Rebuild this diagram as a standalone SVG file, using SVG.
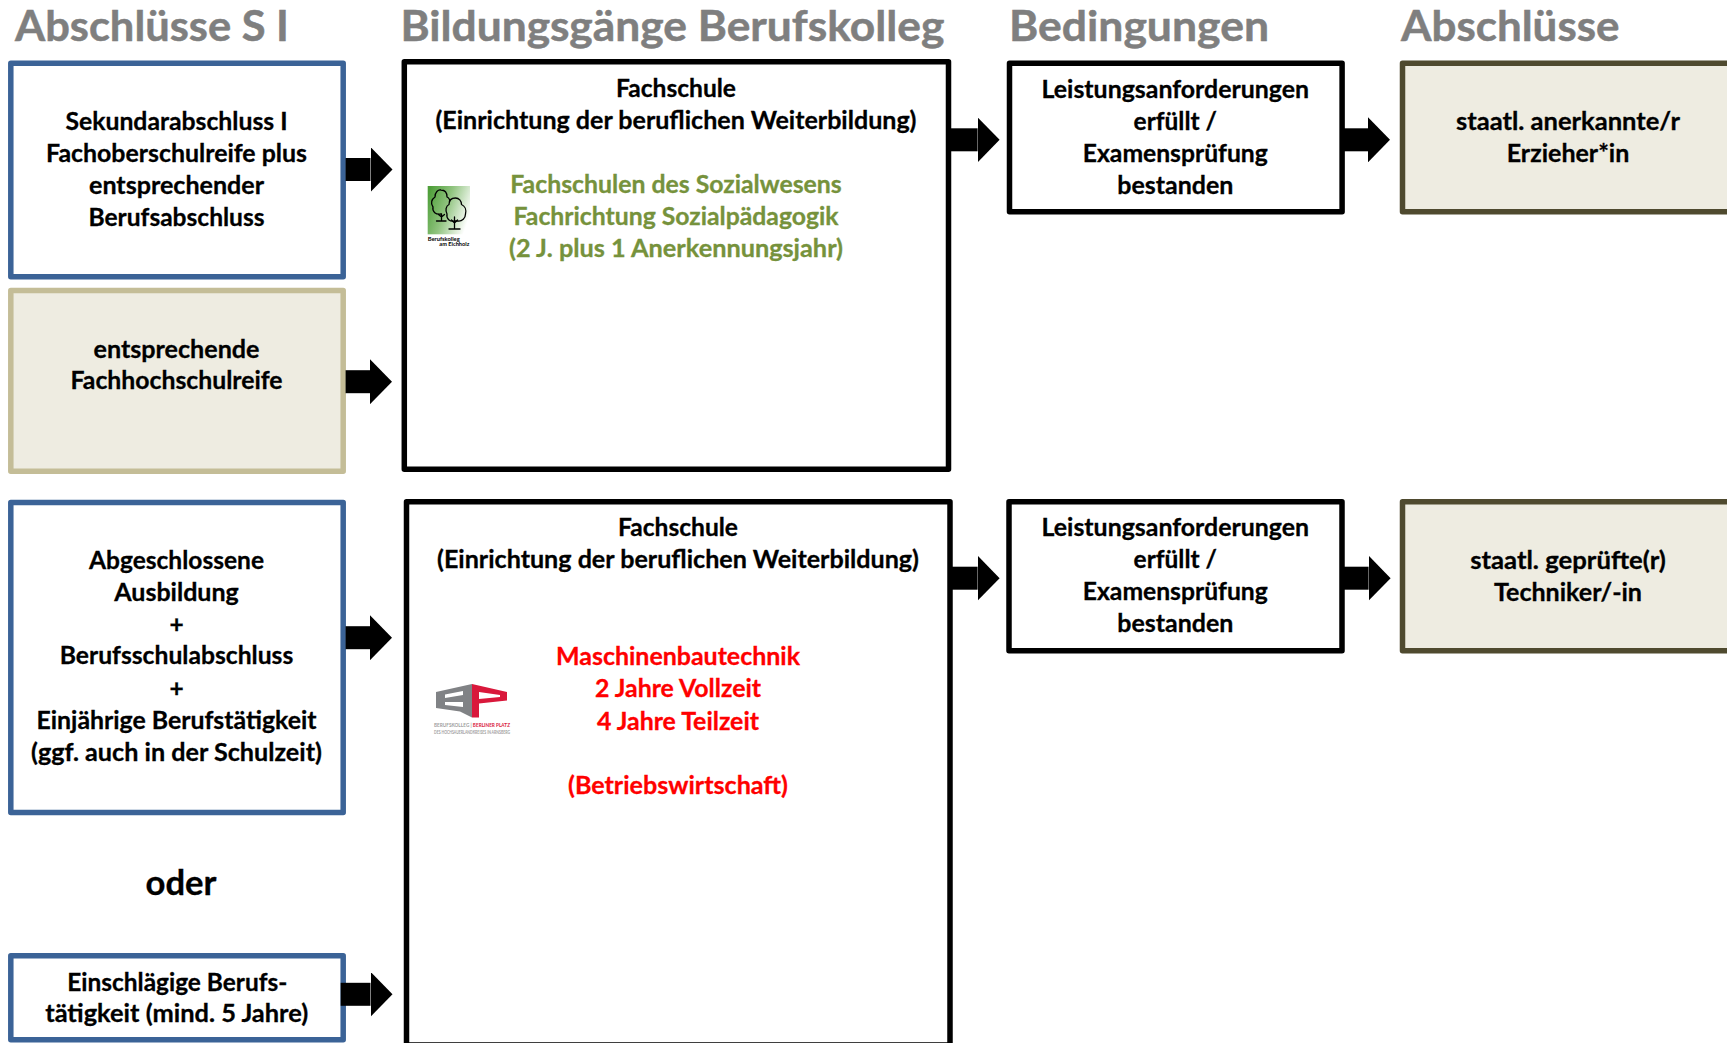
<svg xmlns="http://www.w3.org/2000/svg" width="1727" height="1043" viewBox="0 0 1727 1043">
<style>
text{font-family:"Lato","Carlito","Liberation Sans",sans-serif;font-weight:700;text-anchor:middle;fill:#000;font-size:24.5px;stroke:#000;stroke-width:.3px;transform:translateY(.8px)}
.h{font-size:42px;fill:#7f7f7f;stroke:#7f7f7f;stroke-width:.5px;text-anchor:start;transform:none}
.g{fill:#76923c;stroke:#76923c}
.r{fill:#f00;stroke:#f00}
.box{stroke-width:5.5;stroke-linejoin:round;fill:#fff}
.blue{stroke:#3b6397}
.tan{stroke:#c4bd97;fill:#eeece1}
.blk{stroke:#000}
.end{stroke:#4f4a2f;fill:#eeece1}
.arr{stroke:#000;stroke-width:23;fill:none;marker-end:url(#head)}
.tree{fill:none;stroke:#000;stroke-width:1.3;stroke-linejoin:round;stroke-linecap:round}
.tiny{font-size:5px;fill:#a0a0a0;stroke:none;transform:none}
.cap{font-size:6px;text-anchor:start;stroke:none;transform:none}
</style>
<defs>
<marker id="head" markerUnits="userSpaceOnUse" viewBox="0 0 22 45" refX="0" refY="22.5" markerWidth="22" markerHeight="45" orient="auto"><path d="M0 0L22 22.5L0 45Z" fill="#000"/></marker>
<linearGradient id="leaf" x1="0" y1="0.2" x2="1" y2="0.6"><stop offset="0" stop-color="#4f9f3a"/><stop offset="0.45" stop-color="#8fc37e"/><stop offset="1" stop-color="#fff"/></linearGradient>
</defs>
<rect width="1727" height="1043" fill="#fff"/>

<g id="headings">
<text class="h" x="15" y="41.4" textLength="274" lengthAdjust="spacingAndGlyphs">Abschlüsse S I</text>
<text class="h" x="400.4" y="41.4" textLength="544" lengthAdjust="spacingAndGlyphs">Bildungsgänge Berufskolleg</text>
<text class="h" x="1009" y="41.4" textLength="260" lengthAdjust="spacingAndGlyphs">Bedingungen</text>
<text class="h" x="1401" y="41.4" textLength="218.5" lengthAdjust="spacingAndGlyphs">Abschlüsse</text>
</g>

<g id="n-sek">
<rect class="box blue" x="10.8" y="63.2" width="332.4" height="213.6"/>
<text x="176.5" y="129.3" textLength="222" lengthAdjust="spacingAndGlyphs">Sekundarabschluss I</text>
<text x="176.5" y="161.3" textLength="261" lengthAdjust="spacingAndGlyphs">Fachoberschulreife plus</text>
<text x="176.5" y="193.3" textLength="175" lengthAdjust="spacingAndGlyphs">entsprechender</text>
<text x="176.5" y="225.5" textLength="176" lengthAdjust="spacingAndGlyphs">Berufsabschluss</text>
</g>
<g id="n-fhr">
<rect class="box tan" x="10.8" y="290.5" width="332.4" height="180.7"/>
<text x="176.5" y="357" textLength="166" lengthAdjust="spacingAndGlyphs">entsprechende</text>
<text x="176.5" y="388.7" textLength="212" lengthAdjust="spacingAndGlyphs">Fachhochschulreife</text>
</g>
<g id="n-ausb">
<rect class="box blue" x="10.8" y="502.5" width="332.4" height="310"/>
<text x="176.5" y="567.8" textLength="175" lengthAdjust="spacingAndGlyphs">Abgeschlossene</text>
<text x="176.5" y="599.8" textLength="124.5" lengthAdjust="spacingAndGlyphs">Ausbildung</text>
<text x="176.5" y="631.8">+</text>
<text x="176.5" y="663.7" textLength="233.5" lengthAdjust="spacingAndGlyphs">Berufsschulabschluss</text>
<text x="176.5" y="696.7">+</text>
<text x="176.5" y="728.6" textLength="280" lengthAdjust="spacingAndGlyphs">Einjährige Berufstätigkeit</text>
<text x="176.5" y="760.6" textLength="291" lengthAdjust="spacingAndGlyphs">(ggf. auch in der Schulzeit)</text>
</g>
<g id="n-oder">
<text x="181" y="895.2" style="font-size:34px;transform:none" textLength="71" lengthAdjust="spacingAndGlyphs">oder</text>
</g>
<g id="n-beruf">
<rect class="box blue" x="10.8" y="955.8" width="332.4" height="84"/>
<text x="177.3" y="990" textLength="220" lengthAdjust="spacingAndGlyphs">Einschlägige Berufs-</text>
<text x="176.7" y="1021.7" textLength="263" lengthAdjust="spacingAndGlyphs">tätigkeit (mind. 5 Jahre)</text>
</g>

<g id="n-fs1">
<rect class="box blk" x="404.3" y="61.8" width="544.2" height="407.4"/>
<text x="676" y="96.3" textLength="120" lengthAdjust="spacingAndGlyphs">Fachschule</text>
<text x="676" y="128.3" textLength="481" lengthAdjust="spacingAndGlyphs">(Einrichtung der beruflichen Weiterbildung)</text>
<text class="g" x="676" y="192.4" textLength="331.5" lengthAdjust="spacingAndGlyphs">Fachschulen des Sozialwesens</text>
<text class="g" x="676" y="224.4" textLength="325" lengthAdjust="spacingAndGlyphs">Fachrichtung Sozialpädagogik</text>
<text class="g" x="676" y="256.4" textLength="334" lengthAdjust="spacingAndGlyphs">(2 J. plus 1 Anerkennungsjahr)</text>
<g id="logo-eichholz">
<rect x="427.7" y="186" width="42.3" height="48.3" fill="url(#leaf)"/>
<path class="tree" d="M441 214C436 215 432 212 433 207C430 203 432 199 435 197C435 192 438 189.500 441 190C445 190 447 193 447 197C449 198 450 200 449.500 202"/>
<path class="tree" d="M441.500 214V221M436.500 221H446M438.500 214.500L441.500 217M444.500 214.500L441.500 217"/>
<path class="tree" d="M454.500 221C450 222 446 219 447 214C445 210 446 206 449 204.500C449 200 452 198 455.500 198C459 198 461.500 201 461.500 204.500C465 206 466.500 210 465.500 214C465.500 218 462 221.500 458 221C457 221 455.500 221 454.500 221Z"/>
<path class="tree" d="M454.500 217V229M449 229H460M451.500 220L454.500 223M457.500 220L454.500 223"/>
<text class="cap" x="427.700" y="240.700" textLength="32" lengthAdjust="spacingAndGlyphs">Berufskolleg</text>
<text class="cap" x="439.300" y="246.200" textLength="30" lengthAdjust="spacingAndGlyphs">am Eichholz</text>
</g>
</g>

<g id="n-fs2">
<rect class="box blk" x="406.500" y="501.800" width="543.500" height="543.200"/>
<text x="678" y="535.300" textLength="120" lengthAdjust="spacingAndGlyphs">Fachschule</text>
<text x="678" y="567.300" textLength="482" lengthAdjust="spacingAndGlyphs">(Einrichtung der beruflichen Weiterbildung)</text>
<text class="r" x="678" y="664.500" textLength="244" lengthAdjust="spacingAndGlyphs">Maschinenbautechnik</text>
<text class="r" x="678" y="696.500" textLength="166" lengthAdjust="spacingAndGlyphs">2 Jahre Vollzeit</text>
<text class="r" x="678" y="729.100" textLength="162" lengthAdjust="spacingAndGlyphs">4 Jahre Teilzeit</text>
<text class="r" x="678" y="793.100" textLength="220" lengthAdjust="spacingAndGlyphs">(Betriebswirtschaft)</text>
<g id="logo-berliner-platz">
<path fill="#808285" fill-rule="evenodd" d="M436 692L472 684V717.500L460 711.500L436 708ZM445 694.500L463 691V695L445 698ZM445 702L463 702V707L445 705Z"/>
<path fill="#d9183b" fill-rule="evenodd" d="M472 684L507 692V700.500L479 703.500V717.500H472ZM479 692L500 695V697L479 699Z"/>
<text class="tiny" x="472" y="727" textLength="76" lengthAdjust="spacingAndGlyphs">BERUFSKOLLEG | <tspan fill="#d9183b">BERLINER PLATZ</tspan></text>
<text class="tiny" x="472" y="734.300" textLength="76" lengthAdjust="spacingAndGlyphs">DES HOCHSAUERLANDKREISES IN ARNSBERG</text>
</g>
</g>

<g id="n-cond1">
<rect class="box blk" x="1009.500" y="63.200" width="332.600" height="148.600"/>
<text x="1175.300" y="97.300" textLength="267.600" lengthAdjust="spacingAndGlyphs">Leistungsanforderungen</text>
<text x="1175.300" y="129.300" textLength="83.400" lengthAdjust="spacingAndGlyphs">erfüllt /</text>
<text x="1175.300" y="161.300" textLength="185" lengthAdjust="spacingAndGlyphs">Examensprüfung</text>
<text x="1175.300" y="193.300" textLength="116" lengthAdjust="spacingAndGlyphs">bestanden</text>
</g>
<g id="n-cond2">
<rect class="box blk" x="1009" y="501.800" width="333" height="149"/>
<text x="1175.300" y="535.400" textLength="267.600" lengthAdjust="spacingAndGlyphs">Leistungsanforderungen</text>
<text x="1175.300" y="567.400" textLength="83.400" lengthAdjust="spacingAndGlyphs">erfüllt /</text>
<text x="1175.300" y="599.400" textLength="185" lengthAdjust="spacingAndGlyphs">Examensprüfung</text>
<text x="1175.300" y="631.400" textLength="116" lengthAdjust="spacingAndGlyphs">bestanden</text>
</g>
<g id="n-erz">
<rect class="box end" x="1402.500" y="63.200" width="340" height="148.600"/>
<text x="1568" y="129.300" textLength="224" lengthAdjust="spacingAndGlyphs">staatl. anerkannte/r</text>
<text x="1568" y="161.300" textLength="122.500" lengthAdjust="spacingAndGlyphs">Erzieher*in</text>
</g>
<g id="n-tech">
<rect class="box end" x="1402.500" y="501.800" width="340" height="149"/>
<text x="1568" y="568" textLength="195.600" lengthAdjust="spacingAndGlyphs">staatl. geprüfte(r)</text>
<text x="1568" y="600" textLength="148" lengthAdjust="spacingAndGlyphs">Techniker/-in</text>
</g>

<g id="connectors">
<line class="arr" x1="345.600" y1="169.500" x2="370.500" y2="169.500"/>
<line class="arr" x1="345.600" y1="381.700" x2="370" y2="381.700"/>
<line class="arr" x1="345.600" y1="637.700" x2="370" y2="637.700"/>
<line class="arr" x1="340.700" y1="994.300" x2="370.500" y2="994.300"/>
<line class="arr" x1="950" y1="139.800" x2="977.600" y2="139.800"/>
<line class="arr" x1="1344" y1="139.800" x2="1368" y2="139.800"/>
<line class="arr" x1="950" y1="578.200" x2="977.600" y2="578.200"/>
<line class="arr" x1="1344" y1="578.200" x2="1368.600" y2="578.200"/>
</g>
</svg>
